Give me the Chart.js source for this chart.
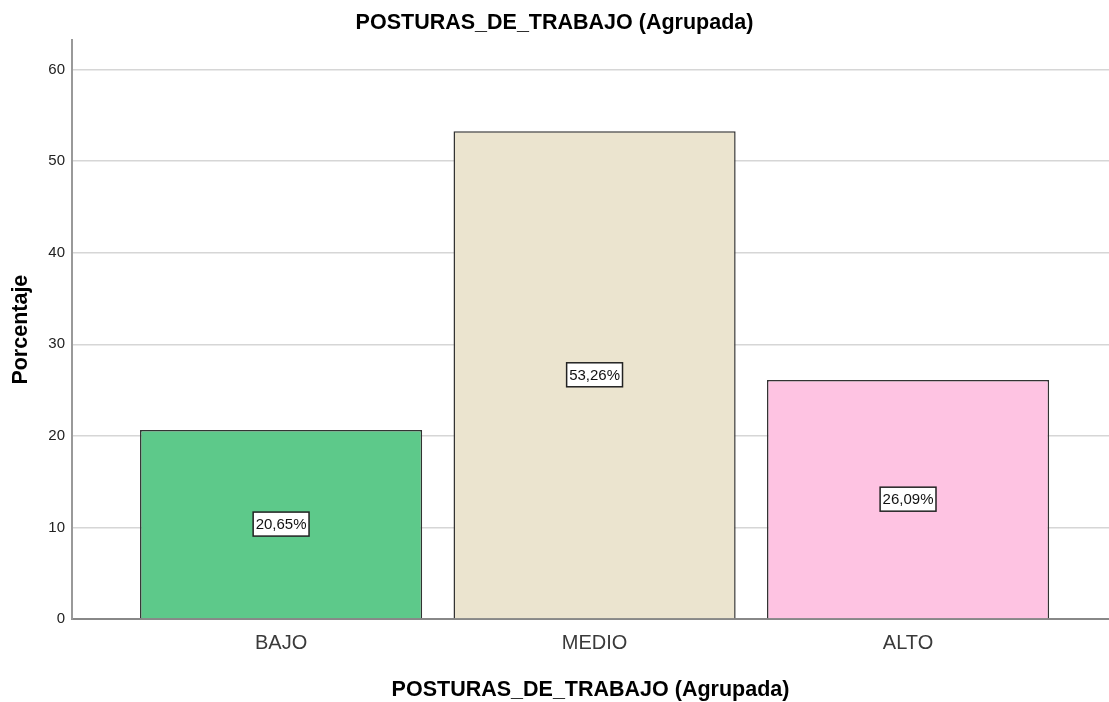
<!DOCTYPE html>
<html>
<head>
<meta charset="utf-8">
<script src="https://cdn.jsdelivr.net/npm/chart.js@4"></script>
<style>
  body { margin: 0; background: #fff; }
  canvas { display: block; }
</style>
</head>
<body>
<canvas id="posturas-chart" width="1109" height="702"></canvas>
<script>
// datos
const categorias = ['BAJO', 'MEDIO', 'ALTO'];
const porcentajes = [20.65, 53.26, 26.09];
const yTicks = [0, 10, 20, 30, 40, 50, 60];
const colores = ['#5dc98a', '#ebe4cf', '#fec3e2'];

const FONT = '"Liberation Sans", Arial, sans-serif';

// etiqueta blanca con borde en el centro de cada barra
const etiquetasBarras = {
    id: 'etiquetasBarras',
    afterDatasetsDraw(chart) {
        const ctx = chart.ctx;
        const meta = chart.getDatasetMeta(0);
        ctx.save();
        ctx.font = '15px ' + FONT;
        ctx.textAlign = 'center';
        ctx.textBaseline = 'middle';
        meta.data.forEach(function (bar, i) {
            const txt = porcentajes[i].toFixed(2).replace('.', ',') + '%';
            const cy = (bar.y + bar.base) / 2;
            const w = ctx.measureText(txt).width + 5;
            const h = 24;
            ctx.fillStyle = '#fff';
            ctx.fillRect(bar.x - w / 2, cy - h / 2, w, h);
            ctx.lineWidth = 1.5;
            ctx.strokeStyle = '#222';
            ctx.strokeRect(bar.x - w / 2, cy - h / 2, w, h);
            ctx.fillStyle = '#111';
            ctx.fillText(txt, bar.x, cy + 1);
        });
        ctx.restore();
    }
};

const ctx = document.getElementById('posturas-chart');

new Chart(ctx, {
    type: 'bar',
    data: {
        datasets: [{
            label: 'Porcentaje',
            data: porcentajes.map(function (v, i) { return { x: i, y: v }; }),
            backgroundColor: colores,
            borderColor: '#333',
            borderWidth: 1.5,
            categoryPercentage: 1,
            barPercentage: 0.9
        }]
    },
    options: {
        responsive: false,
        animation: false,
        devicePixelRatio: 1,
        layout: { padding: 0 },
        plugins: {
            legend: { display: false },
            tooltip: { enabled: false },
            title: {
                display: true,
                text: 'POSTURAS_DE_TRABAJO (Agrupada)',
                color: '#000',
                font: { family: FONT, size: 21.5, weight: 'bold' },
                padding: { top: 10, bottom: 4.5 }
            }
        },
        scales: {
            x: {
                type: 'linear',
                offset: false,
                min: -0.667,
                max: 2.641,
                afterFit: function (scale) { scale.height = 83; },
                afterBuildTicks: function (scale) {
                    scale.ticks = categorias.map(function (c, i) { return { value: i }; });
                },
                grid: { display: false, drawTicks: false },
                border: { display: true, color: '#888', width: 2 },
                ticks: {
                    color: '#3a3a3a',
                    font: { family: FONT, size: 20 },
                    padding: 12,
                    callback: function (v) { return categorias[v]; }
                },
                title: {
                    display: true,
                    text: 'POSTURAS_DE_TRABAJO (Agrupada)',
                    color: '#000',
                    font: { family: FONT, size: 21.5, weight: 'bold' },
                    padding: { top: 0, bottom: -1 }
                }
            },
            y: {
                min: 0,
                max: 63.2,
                afterFit: function (scale) { scale.width = 72; },
                afterBuildTicks: function (scale) {
                    scale.ticks = yTicks.map(function (v) { return { value: v }; });
                },
                grid: { color: '#d6d6d6', lineWidth: 1.5, drawTicks: false },
                border: { display: true, color: '#999', width: 2 },
                ticks: {
                    color: '#222',
                    font: { family: FONT, size: 15 },
                    padding: 7
                },
                title: {
                    display: true,
                    text: 'Porcentaje',
                    color: '#000',
                    font: { family: FONT, size: 21.5, weight: 'bold' },
                    padding: { top: 8, bottom: 0 }
                }
            }
        }
    },
    plugins: [etiquetasBarras]
});
</script>
</body>
</html>
